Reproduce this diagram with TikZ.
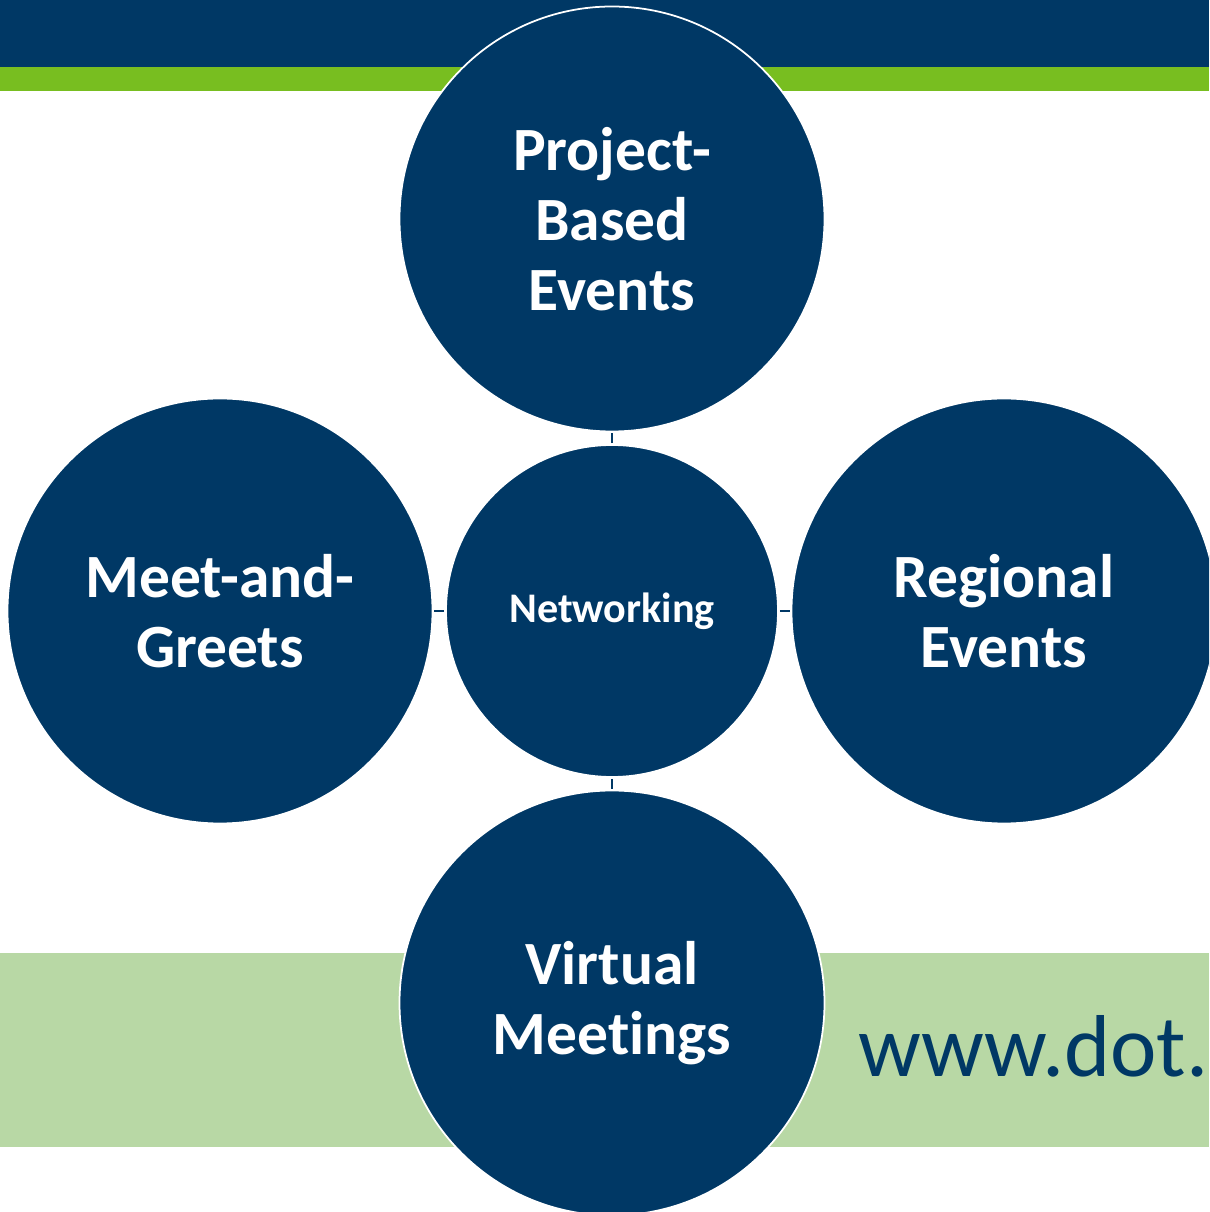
\documentclass[tikz,border=0pt]{standalone}
\usepackage{fontspec}
\setmainfont{Carlito}[Ligatures=NoCommon]
\usetikzlibrary{positioning}

\definecolor{navy}{RGB}{0,56,101}
\definecolor{leafgreen}{RGB}{120,190,32}
\definecolor{palegreen}{RGB}{184,216,165}

\begin{document}
\begin{tikzpicture}[shorten >=0.3pt,shorten <=0.3pt,node distance=3.92cm,
                main node/.style={circle,fill=navy,draw=white,line width=0.5pt,minimum size=4.25cm,
                  align=center,text=white,font=\fontsize{17.5}{20}\selectfont\bfseries},
                hub node/.style={main node,minimum size=3.32cm,font=\fontsize{12}{14}\selectfont\bfseries}]
                \useasboundingbox (0,0) rectangle (12.09,12.12);
                \clip (0,0) rectangle (12.09,12.12);
                % slide bands
                \fill[navy] (0,12.12) rectangle (12.09,11.45);
                \fill[leafgreen] (0,11.45) rectangle (12.09,11.21);
                \fill[palegreen] (0,2.59) rectangle (12.09,0.65);
                \node[anchor=base west,inner sep=0pt,text=navy,font=\fontsize{25}{30}\selectfont] (url) at (8.58,1.35) {www.dot.};

                \node[hub node] (0) at (6.12,6.01) {Networking};
                \node[main node] (1) [above of=0] {Project-\\Based\\Events};
                \node[main node] (2) [left of=0] {Meet-and-\\Greets};
                \node[main node] (3) [right of=0] {Regional\\Events};
                \node[main node] (4) [below of=0] {Virtual\\Meetings};

                \path[draw=navy,line width=0.6pt]
                (0) edge (1)
                (0) edge (2)
                (0) edge (3)
                (0) edge (4)
                ;
                \end{tikzpicture}
\end{document}
